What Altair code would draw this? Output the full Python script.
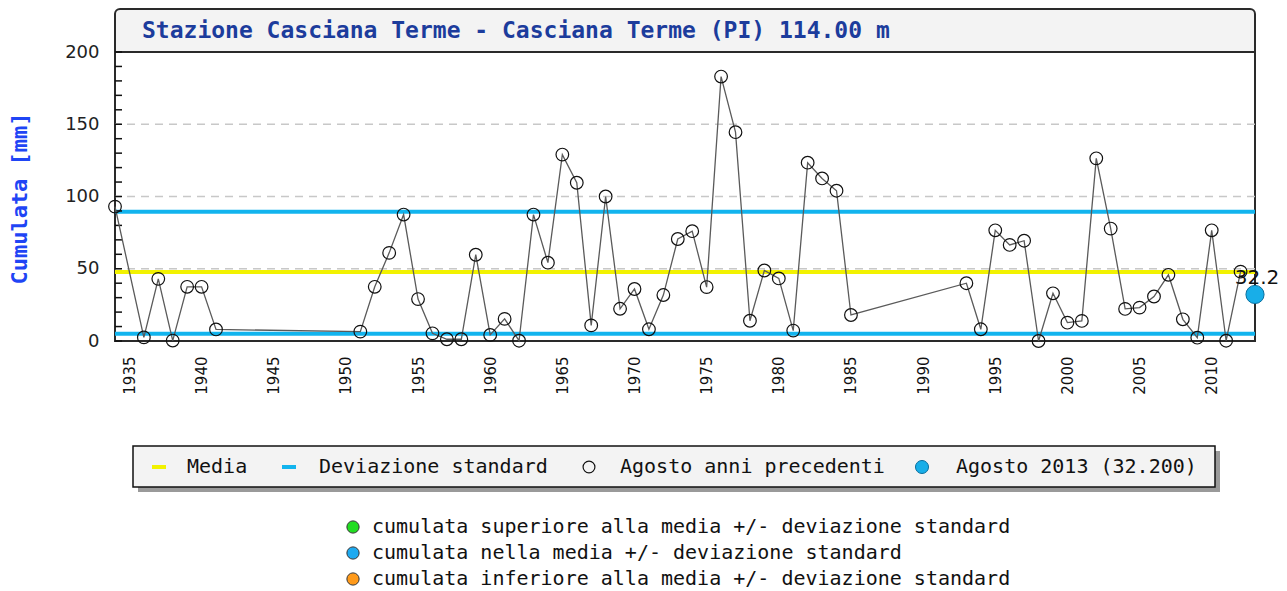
import altair as alt
import pandas as pd

# ---------------- data ----------------
anni = [1934, 1936, 1937, 1938, 1939, 1940, 1941,
        1951, 1952, 1953, 1954, 1955, 1956, 1957, 1958, 1959, 1960,
        1961, 1962, 1963, 1964, 1965, 1966, 1967, 1968, 1969, 1970,
        1971, 1972, 1973, 1974, 1975, 1976, 1977, 1978, 1979, 1980,
        1981, 1982, 1983, 1984, 1985,
        1993, 1994, 1995, 1996, 1997, 1998, 1999, 2000,
        2001, 2002, 2003, 2004, 2005, 2006, 2007, 2008, 2009, 2010,
        2011, 2012]
cumulata = [93, 2.5, 43, 0.3, 37.5, 37.5, 8,
            6.5, 37.5, 61, 87.5, 29, 5.3, 1.2, 1.2, 59.7, 4.2,
            15.3, 0.2, 87.5, 54.2, 129, 109.5, 10.8, 100, 22.3, 36,
            8.1, 31.8, 70.6, 76, 37.3, 183, 144.5, 14, 48.8, 43.3,
            7.2, 123.4, 112.5, 104, 18,
            40, 8.1, 76.6, 66.5, 69.4, 0, 33, 12.7,
            13.9, 126.4, 77.8, 22.2, 23.1, 30.8, 45.8, 15, 2.3, 76.6,
            0.2, 48]
anno_corrente = [2013]
cumulata_corrente = [32.2]
etichetta_corrente = ["32.2"]

media = [47.8]
deviazione = [5.0, 89.4]

y_ticks = list(range(0, 201, 10))
y_labels = [0, 50, 100, 150, 200]
y_grid = [50, 100, 150]
x_labels = list(range(1935, 2011, 5))

titolo = ["Stazione Casciana Terme - Casciana Terme (PI) 114.00 m"]
titolo_y = "Cumulata [mm]"
legenda = ["Media", "Deviazione standard", "Agosto anni precedenti",
           "Agosto 2013 (32.200)"]
note = ["cumulata superiore alla media +/- deviazione standard",
        "cumulata nella media +/- deviazione standard",
        "cumulata inferiore alla media +/- deviazione standard"]

# ---------------- styles ----------------
W, H = 1140, 289
MONO = "DejaVu Sans Mono"
SANS = "DejaVu Sans"
GIALLO = "#f2f200"
AZZURRO = "#12b4ee"
FRAME = "#2a2a2a"

xscale = alt.Scale(domain=[1934, 2013], nice=False, zero=False)
yscale = alt.Scale(domain=[0, 200], nice=False)

xaxis = alt.Axis(values=x_labels, format="d", labelAngle=270, ticks=False,
                 domain=False, grid=False, labelPadding=15, labelFont=SANS,
                 labelFontSize=15, labelColor="#111", title=None)
yaxis = alt.Axis(values=y_labels, ticks=False, domain=False, grid=False,
                 labelPadding=16, labelFont=SANS, labelFontSize=18,
                 labelColor="#222", title=titolo_y, titleFont=MONO,
                 titleFontSize=22, titleFontWeight="bold",
                 titleColor="#1f45f5", titleAngle=270, titleX=-84,
                 titleY=146, titleAlign="center", titleBaseline="bottom")


def X(field="anno"):
    return alt.X(f"{field}:Q", scale=xscale, axis=xaxis)


def Y(field="valore"):
    return alt.Y(f"{field}:Q", scale=yscale, axis=yaxis)


df = pd.DataFrame({"anno": anni, "valore": cumulata})
df_cur = pd.DataFrame({"anno": anno_corrente, "valore": cumulata_corrente,
                       "lab": etichetta_corrente})
df_media = pd.DataFrame({"valore": media})
df_dev = pd.DataFrame({"valore": deviazione})
df_ticks = pd.DataFrame({"valore": y_ticks})
df_grid = pd.DataFrame({"valore": y_grid})

one = pd.DataFrame({"k": [0]})

# title box
title_bg = alt.Chart(one).mark_rect(
    fill="#f3f3f3", stroke=FRAME, strokeWidth=2,
    cornerRadiusTopLeft=5, cornerRadiusTopRight=5).encode(
    x=alt.value(0), x2=alt.value(W), y=alt.value(-43), y2=alt.value(0))
title_txt = alt.Chart(pd.DataFrame({"t": titolo})).mark_text(
    font=MONO, fontSize=23, fontWeight="bold", color="#1c3c9c",
    align="left", baseline="middle").encode(
    text="t:N", x=alt.value(27), y=alt.value(-21))

grid = alt.Chart(df_grid).mark_rule(color="#c8c8c8", strokeWidth=1.5,
                                    strokeDash=[8, 6]).encode(y=Y())
ticks = alt.Chart(df_ticks).mark_rule(color="#111", strokeWidth=1.5).encode(
    y=Y(), x=alt.value(0), x2=alt.value(7))

media_line = alt.Chart(df_media).mark_rule(color=GIALLO, strokeWidth=4).encode(y=Y())
dev_line = alt.Chart(df_dev).mark_rule(color=AZZURRO, strokeWidth=4).encode(y=Y())

line = alt.Chart(df).mark_line(color="#5a5a5a", strokeWidth=1.3).encode(
    x=X(), y=Y(), order="anno:Q")
pts = alt.Chart(df).mark_point(shape="circle", filled=False, color="#111",
                               strokeWidth=1.2, size=160, opacity=1).encode(
    x=X(), y=Y())
cur_pt = alt.Chart(df_cur).mark_point(shape="circle", filled=True,
                                      fill="#18aee8", stroke="#0a6f9e",
                                      strokeWidth=1, size=330, opacity=1).encode(
    x=X(), y=Y())
cur_lab = alt.Chart(df_cur).mark_text(font=SANS, fontSize=20, color="#111",
                                      dy=-16, dx=2, align="center").encode(
    x=X(), y=Y(), text="lab:N")

# legend box
LY = 415
leg_shadow = alt.Chart(one).mark_rect(fill="#9a9a9a").encode(
    x=alt.value(23), x2=alt.value(1105), y=alt.value(399), y2=alt.value(440))
leg_box = alt.Chart(one).mark_rect(fill="#f3f3f3", stroke="#111",
                                   strokeWidth=1.5).encode(
    x=alt.value(18), x2=alt.value(1100), y=alt.value(394), y2=alt.value(435))
leg_media = alt.Chart(one).mark_rule(color=GIALLO, strokeWidth=4).encode(
    x=alt.value(37), x2=alt.value(51), y=alt.value(LY))
leg_dev = alt.Chart(one).mark_rule(color=AZZURRO, strokeWidth=4).encode(
    x=alt.value(167), x2=alt.value(181), y=alt.value(LY))
leg_open = alt.Chart(one).mark_point(shape="circle", filled=False, color="#111",
                                     strokeWidth=1.2, size=140, opacity=1).encode(
    x=alt.value(474), y=alt.value(LY))
leg_cur = alt.Chart(one).mark_point(shape="circle", filled=True, fill="#18aee8",
                                    stroke="#0a6f9e", strokeWidth=1, size=170,
                                    opacity=1).encode(
    x=alt.value(807), y=alt.value(LY))


def leg_text(i, xpos):
    return alt.Chart(pd.DataFrame({"t": [legenda[i]]})).mark_text(
        font=MONO, fontSize=20, color="#111", align="left",
        baseline="middle").encode(text="t:N", x=alt.value(xpos), y=alt.value(LY))


leg_texts = [leg_text(0, 72), leg_text(1, 204), leg_text(2, 505), leg_text(3, 841)]

# notes below
note_cols = ["#22dd22", "#1eaaf0", "#ff9a1a"]
note_layers = []
for i, (t, c) in enumerate(zip(note, note_cols)):
    yy = 475 + 26 * i
    note_layers.append(alt.Chart(one).mark_point(
        shape="circle", filled=True, fill=c, stroke="#333", strokeWidth=1,
        size=150, opacity=1).encode(x=alt.value(238), y=alt.value(yy)))
    note_layers.append(alt.Chart(pd.DataFrame({"t": [t]})).mark_text(
        font=MONO, fontSize=20, color="#111", align="left",
        baseline="middle").encode(text="t:N", x=alt.value(257), y=alt.value(yy)))

chart = alt.layer(
    title_bg, title_txt, grid, media_line, dev_line, ticks, line, pts, cur_pt,
    cur_lab, leg_shadow, leg_box, leg_media, leg_dev, leg_open, leg_cur,
    *leg_texts, *note_layers
).properties(
    width=W, height=H,
    padding={"left": 107, "top": 44, "right": 24, "bottom": 250},
    autosize=alt.AutoSizeParams(type="none"),
).configure(
    background="white",
    view=alt.ViewConfig(stroke=FRAME, strokeWidth=2),
)

chart.save("out.html", embed_options={"renderer": "svg", "actions": False})
